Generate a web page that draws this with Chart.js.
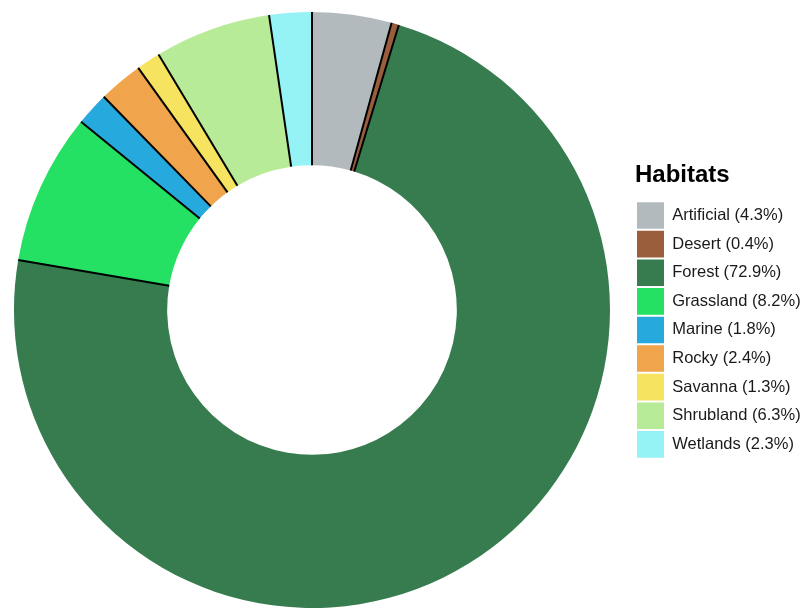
<!DOCTYPE html>
<html>
<head>
<meta charset="utf-8">
<script src="https://cdn.jsdelivr.net/npm/chart.js@4.4.1/dist/chart.umd.min.js"></script>
<style>
  html, body { margin: 0; padding: 0; background: #fff; overflow: hidden; }
  /* canvas is a bit wider than the page and pulled left so the ring sits tight to the edge */
  canvas { display: block; margin-left: -11px; }
</style>
</head>
<body>
<canvas id="habitat-chart" width="813" height="608"></canvas>
<script>
// habitat shares, percent
const habitats = ['Artificial', 'Desert', 'Forest', 'Grassland', 'Marine', 'Rocky', 'Savanna', 'Shrubland', 'Wetlands'];
const shares   = [4.3, 0.4, 72.9, 8.2, 1.8, 2.4, 1.3, 6.3, 2.3];
const colors   = ['#b3babd', '#9b5e3d', '#367c4e', '#24e063', '#26aade', '#f0a44c', '#f6e360', '#b8eb97', '#95f2f5'];

const labels = habitats.map((h, i) => `${h} (${shares[i].toFixed(1)}%)`);

const FAMILY = '"Liberation Sans", Arial, sans-serif';
const LABEL_SIZE = 16.5;
const BOX_W = 27, BOX_H = 26.6, ROW_PAD = 2;
const CANVAS_W = 813;
const LEGEND_LEFT = 646;

// right padding that puts the legend column at LEGEND_LEFT
const mctx = document.createElement('canvas').getContext('2d');
mctx.font = `${LABEL_SIZE}px ${FAMILY}`;
const textW = Math.max(...labels.map(t => mctx.measureText(t).width));
const legendW = ROW_PAD + BOX_W + LABEL_SIZE / 2 + textW + 10;
const padRight = CANVAS_W - LEGEND_LEFT - legendW;

// thin black spokes between the slices (no outline on the rims)
const separators = {
  id: 'separators',
  afterDatasetsDraw(chart) {
    const ctx = chart.ctx;
    ctx.save();
    ctx.strokeStyle = '#000';
    ctx.lineWidth = 2;
    chart.getDatasetMeta(0).data.forEach(arc => {
      const {x, y, startAngle, innerRadius, outerRadius} =
        arc.getProps(['x', 'y', 'startAngle', 'innerRadius', 'outerRadius'], true);
      const c = Math.cos(startAngle), s = Math.sin(startAngle);
      ctx.beginPath();
      ctx.moveTo(x + c * innerRadius, y + s * innerRadius);
      ctx.lineTo(x + c * outerRadius, y + s * outerRadius);
      ctx.stroke();
    });
    ctx.restore();
  }
};

new Chart(document.getElementById('habitat-chart'), {
  type: 'doughnut',
  data: {
    labels,
    datasets: [{
      data: shares,
      backgroundColor: colors,
      borderWidth: 0
    }]
  },
  options: {
    responsive: false,
    animation: false,
    cutout: '48.6%',
    layout: { padding: { left: 0, top: 12, right: padRight, bottom: 0 } },
    plugins: {
      tooltip: { enabled: false },
      legend: {
        position: 'right',
        align: 'center',
        title: {
          display: true,
          text: 'Habitats',
          position: 'start',
          color: '#000',
          padding: { top: 3.5, bottom: 7.6 },
          font: { family: FAMILY, size: 24, weight: 'bold' }
        },
        labels: {
          boxWidth: BOX_W,
          boxHeight: BOX_H,
          padding: ROW_PAD,
          color: '#1a1a1a',
          font: { family: FAMILY, size: LABEL_SIZE }
        }
      }
    }
  },
  plugins: [separators]
});
</script>
</body>
</html>
